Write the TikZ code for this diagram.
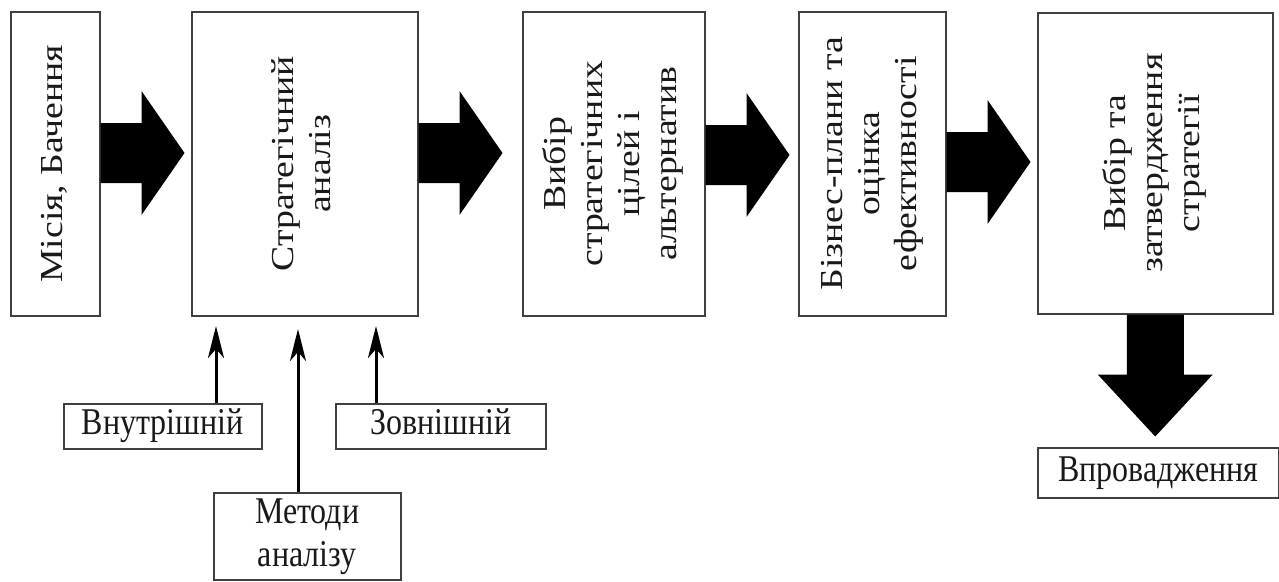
\documentclass[tikz,border=0pt]{standalone}
\usepackage{fontspec}
\setmainfont{Liberation Serif}
\usepackage{graphicx}
\usetikzlibrary{arrows.meta,calc}
\newcommand{\rightblockarrow}[1]{\fill[black] (#1) ++(0,-30) -- ++(41,0) -- ++(0,-32) -- ++(43,62) -- ++(-43,62) -- ++(0,-32) -- ++(-41,0) -- cycle;}
\newcommand{\rtext}[1]{\rotatebox{90}{\scalebox{1.18}[1]{\begin{tabular}{@{}c@{}}#1\end{tabular}}}}
\newcommand{\htext}[1]{\scalebox{1}[1.18]{\begin{tabular}{@{}c@{}}#1\end{tabular}}}
\begin{document}
\begin{tikzpicture}[x=1pt,y=-1pt,
  box/.style={draw=black!75,line width=1.5pt,fill=white,inner sep=0pt,anchor=north west,
    font=\fontsize{32}{37}\selectfont,text=black!90},
  feed/.style={line width=3pt,-{Stealth[length=32pt,width=16pt,inset=9pt]}}]
\useasboundingbox (0,0) rectangle (1279,581);
% main boxes
\node[box,minimum width=89pt,minimum height=304pt] (b1) at (10,11) {\rtext{Місія, Бачення}};
\node[box,minimum width=226pt,minimum height=304pt] (b2) at (191,11) {\rtext{Стратегічний\\аналіз}};
\node[box,minimum width=182pt,minimum height=304pt] (b3) at (522,11) {\rtext{Вибір\\стратегічних\\цілей і\\альтернатив}};
\node[box,minimum width=147pt,minimum height=304pt] (b4) at (798,11) {\rtext{Бізнес-плани та\\оцінка\\ефективності}};
\node[box,minimum width=235pt,minimum height=301pt] (b5) at (1037,12) {\rtext{Вибір та\\затвердження\\стратегії}};
% lower boxes
\node[box,minimum width=198pt,minimum height=45pt] (in) at (63,403) {\htext{Внутрішній}};
\node[box,minimum width=210pt,minimum height=45pt] (ex) at (335,403) {\htext{Зовнішній}};
\node[box,minimum width=187pt,minimum height=87pt] (me) at (213,492) {\htext{Методи\\аналізу}};
\node[box,minimum width=241pt,minimum height=50pt] (im) at (1037,447) {\htext{Впровадження}};
% block arrows
\coordinate (a1) at (b1.east |- 0,153);
\coordinate (a2) at (b2.east |- 0,153);
\coordinate (a3) at (b3.east |- 0,155);
\coordinate (a4) at (b4.east |- 0,162);
\rightblockarrow{a1}
\rightblockarrow{a2}
\rightblockarrow{a3}
\rightblockarrow{a4}
\coordinate (d) at (b5.south);
\fill[black] (d) ++(-28.5,0) -- ++(0,60) -- ++(-29,0) -- ++(57.5,62) -- ++(57.5,-62) -- ++(-29,0) -- ++(0,-60) -- cycle;
% feed arrows
\coordinate (t1) at (216,326);
\coordinate (t2) at (298,329);
\coordinate (t3) at (376,326);
\draw[feed] (in.north -| t1) -- (t1);
\draw[feed] (me.north -| t2) -- (t2);
\draw[feed] (ex.north -| t3) -- (t3);
\end{tikzpicture}
\end{document}
